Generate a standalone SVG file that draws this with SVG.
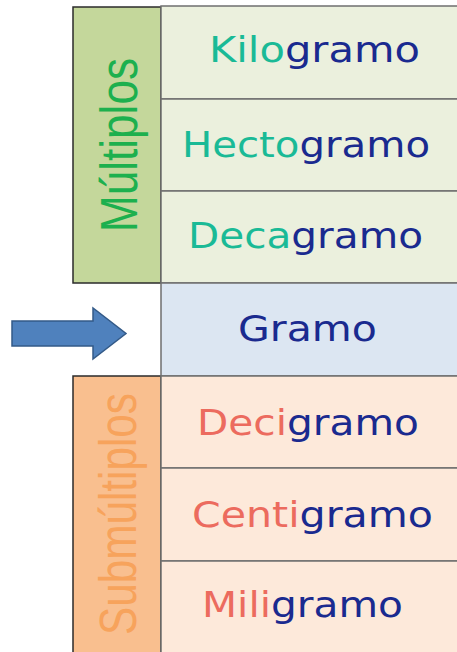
<svg xmlns="http://www.w3.org/2000/svg" width="457" height="652" viewBox="0 0 457 652">
<style>
.cell{stroke:#6f6f6f;stroke-width:1.5}
.mul{fill:#EBF0DD}
.base{fill:#DCE6F2}
.sub{fill:#FDE9DA}
.side{stroke:#2b2b2b;stroke-width:1.5}
.lbl{font-family:"DejaVu Sans","Verdana",sans-serif;font-size:35.5px}
.g{fill:#1A2A8F}
.t{fill:#1ABA96}
.r{fill:#EC6B5E}
.vt{font-family:"Liberation Sans","Arial",sans-serif;font-size:43px;text-anchor:middle}
</style>
<rect width="457" height="652" fill="#ffffff"/>
<g id="multiplos">
<rect class="side" x="73" y="7" width="88" height="276" fill="#C4D79B"/>
<text class="vt" fill="#1DB04E" textLength="174" lengthAdjust="spacingAndGlyphs" transform="translate(137,145) scale(1.2,1) rotate(-90)">Múltiplos</text>
</g>
<g id="submultiplos">
<rect class="side" x="73" y="376" width="88" height="278" fill="#F9BF8F"/>
<text class="vt" fill="#F7A35C" textLength="242" lengthAdjust="spacingAndGlyphs" transform="translate(136,514) scale(1.2,1) rotate(-90)">Submúltiplos</text>
</g>
<g id="kilogramo">
<rect class="cell mul" x="161" y="6" width="300" height="93"/>
<text class="lbl" x="209" y="62" textLength="211" lengthAdjust="spacingAndGlyphs"><tspan class="t">Kilo</tspan><tspan class="g">gramo</tspan></text>
</g>
<g id="hectogramo">
<rect class="cell mul" x="161" y="99" width="300" height="92"/>
<text class="lbl" x="182" y="157" textLength="248" lengthAdjust="spacingAndGlyphs"><tspan class="t">Hecto</tspan><tspan class="g">gramo</tspan></text>
</g>
<g id="decagramo">
<rect class="cell mul" x="161" y="191" width="300" height="92"/>
<text class="lbl" x="188" y="248" textLength="235" lengthAdjust="spacingAndGlyphs"><tspan class="t">Deca</tspan><tspan class="g">gramo</tspan></text>
</g>
<g id="gramo">
<rect class="cell base" x="161" y="283" width="300" height="93"/>
<text class="lbl g" x="238" y="341" textLength="139" lengthAdjust="spacingAndGlyphs">Gramo</text>
</g>
<g id="decigramo">
<rect class="cell sub" x="161" y="376" width="300" height="92"/>
<text class="lbl" x="197" y="435" textLength="222" lengthAdjust="spacingAndGlyphs"><tspan class="r">Deci</tspan><tspan class="g">gramo</tspan></text>
</g>
<g id="centigramo">
<rect class="cell sub" x="161" y="468" width="300" height="93"/>
<text class="lbl" x="192" y="527" textLength="241" lengthAdjust="spacingAndGlyphs"><tspan class="r">Centi</tspan><tspan class="g">gramo</tspan></text>
</g>
<g id="miligramo">
<rect class="cell sub" x="161" y="561" width="300" height="93"/>
<text class="lbl" x="202" y="617" textLength="201" lengthAdjust="spacingAndGlyphs"><tspan class="r">Mili</tspan><tspan class="g">gramo</tspan></text>
</g>
<g id="connectors">
<polygon points="12,321 93,321 93,308 126,333.5 93,359 93,346 12,346" fill="#4F81BD" stroke="#335A88" stroke-width="1.5"/>
</g>
</svg>
